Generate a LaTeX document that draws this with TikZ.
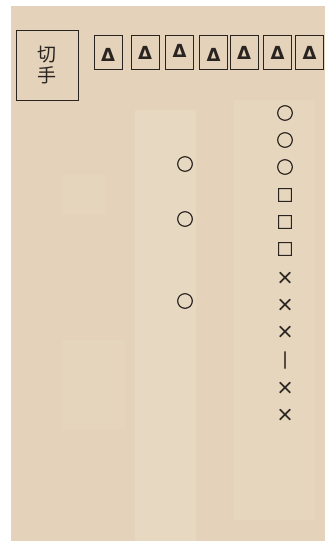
\documentclass[tikz,border=0pt]{standalone}
\usepackage{fontspec}
\newfontfamily\cjk{Noto Sans CJK JP}
\newfontfamily\cjkb[FakeBold=2.2]{Noto Sans CJK JP}
\newfontfamily\trifont{DejaVu Sans Bold}
\definecolor{paper}{HTML}{E4D3BA}
\definecolor{paperlight}{HTML}{E7D8C1}
\definecolor{ink}{HTML}{2A2420}
\begin{document}
\begin{tikzpicture}[x=1pt,y=-1pt,
  stampbox/.style={draw=ink,line width=1pt,minimum width=28pt,minimum height=34pt,inner sep=0pt},
  sym/.style={font=\cjkb\fontsize{17}{17}\selectfont,text=ink,inner sep=0pt},
  tri/.style={font=\trifont\fontsize{18}{18}\selectfont,text=ink,inner sep=0pt}]
\useasboundingbox (0,0) rectangle (328,541);
\fill[white] (0,0) rectangle (328,541);
\fill[paper] (11,6) rectangle (325,541);
\fill[paperlight] (135,110) rectangle (196,541);
\fill[paperlight,opacity=.7] (234,100) rectangle (315,520);
\fill[paperlight,opacity=.5] (62,175) rectangle (106,215);
\fill[paperlight,opacity=.5] (62,340) rectangle (125,430);
\node[draw=ink,line width=1pt,minimum width=62pt,minimum height=70pt,inner sep=0pt,
  font=\cjk\fontsize{19}{21}\selectfont,text=ink,align=center] (stamp) at (47,65) {切\\手};
\foreach \i/\x/\dy in {1/108/2,2/145/0,3/179.5/-2,4/213.5/2,5/244/0,6/277.5/0,7/309.5/0}{
  \node[stampbox] (b\i) at (\x,52.5) {};
  \node[tri] (t\i) at ([yshift=-\dy pt]b\i.center) {Δ};
}
\node[sym] (l1) at (185,164) {○};
\node[sym] (l2) at (185,219) {○};
\node[sym] (l3) at (185,301) {○};
\node[sym] (r1) at (285,113) {○};
\node[sym] (r2) at (285,140) {○};
\node[sym] (r3) at (285,167) {○};
\node[sym] (r4) at (285,195) {□};
\node[sym] (r5) at (285,222) {□};
\node[sym] (r6) at (285,249) {□};
\node[sym] (r7) at (285,278) {×};
\node[sym] (r8) at (285,305) {×};
\node[sym] (r9) at (285,332) {×};
\node[sym] (r10) at (285,360) {｜};
\node[sym] (r11) at (285,388) {×};
\node[sym] (r12) at (285,415) {×};
\end{tikzpicture}
\end{document}
